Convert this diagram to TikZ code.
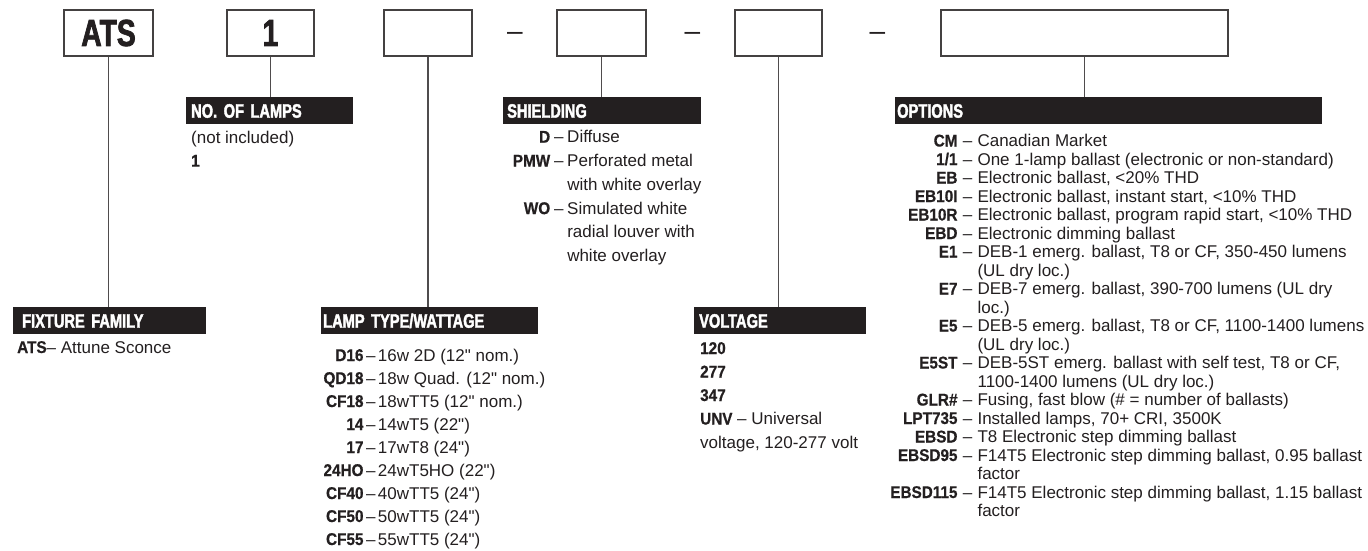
\documentclass[tikz,border=0pt]{standalone}
\usepackage{fontspec}
\usepackage{array}
\setmainfont[Ligatures=TeXOff]{Liberation Sans}
\newfontfamily\hdfont[FakeStretch=0.75, BoldFeatures={FakeBold=2}]{Liberation Sans}
\newfontfamily\labfont[FakeStretch=0.9, BoldFeatures={FakeBold=0.6}]{Liberation Sans}
\definecolor{ink}{HTML}{231F20}
\newcommand\mylab[1]{{\labfont\bfseries #1}}
\newcolumntype{R}[1]{>{\raggedleft\arraybackslash\labfont\bfseries}p{#1}}
\tikzset{
  codebox/.style={draw=ink!85, line width=1.3pt, inner sep=0pt, minimum height=46pt, text=ink,
    font=\hdfont\bfseries\fontsize{37.7pt}{40pt}\selectfont},
  hdr/.style={fill=ink, text=white, anchor=north west, minimum height=27pt, inner ysep=0pt,
    align=left, text height=14pt, text depth=0pt,
    font=\hdfont\bfseries\fontsize{19.5pt}{22pt}\selectfont},
  conn/.style={draw=ink!80, line width=1.3pt},
  body/.style={text=ink, inner sep=0pt, anchor=base west, font=\fontsize{17pt}{23.6pt}\selectfont},
  sepdash/.style={text=ink, inner sep=0pt, anchor=base, font=\fontsize{28pt}{30pt}\selectfont},
}
\begin{document}
\begin{tikzpicture}[x=1pt,y=-1pt]
\fill[white] (0,0) rectangle (1368,550);
\useasboundingbox (0,0) rectangle (1368,550);

% code boxes
\node[codebox, minimum width=89pt] (b1) at (108.5,33) {ATS};
\node[codebox, minimum width=87pt] (b2) at (270.5,33) {1};
\node[codebox, minimum width=88pt] (b3) at (428,33) {};
\node[codebox, minimum width=89pt] (b4) at (601.5,33) {};
\node[codebox, minimum width=87pt] (b5) at (778.5,33) {};
\node[codebox, minimum width=287pt] (b6) at (1084.5,33) {};

% dashes between boxes
\node[sepdash] (d1) at (515,40.7) {–};
\node[sepdash] (d2) at (692.5,40.7) {–};
\node[sepdash] (d3) at (877.5,40.7) {–};

% header bars
\node[hdr, inner xsep=9pt, text width=175pt] (h1) at (13,307) {FIXTURE FAMILY};
\node[hdr, inner xsep=5pt, text width=157pt] (h2) at (186,97) {NO. OF LAMPS};
\node[hdr, inner xsep=2pt, text width=213pt] (h3) at (321,307) {LAMP TYPE/WATTAGE};
\node[hdr, inner xsep=4pt, text width=190pt] (h4) at (503,97) {SHIELDING};
\node[hdr, inner xsep=5pt, text width=162pt] (h5) at (694,307) {VOLTAGE};
\node[hdr, inner xsep=2pt, text width=423pt] (h6) at (895,97) {OPTIONS};

% connectors
\draw[conn] (b1.south) -- (b1.south |- h1.north);
\draw[conn] (b2.south) -- (b2.south |- h2.north);
\draw[conn] (b3.south) -- (b3.south |- h3.north);
\draw[conn] (b4.south) -- (b4.south |- h4.north);
\draw[conn] (b5.south) -- (b5.south |- h5.north);
\draw[conn] (b6.south) -- (b6.south |- h6.north);

% fixture family
\node[body] (t1) at (17,353) {\mylab{ATS}– Attune Sconce};

% no. of lamps
\node[body] (t2) at (191,143) {\begin{tabular}[t]{@{}l@{}}
(not included)\\
\mylab{1}
\end{tabular}};

% lamp type
\node[body, font=\fontsize{17pt}{23pt}\selectfont] (t3) at (303.3,361) {\begin{tabular}[t]{@{}R{60pt}@{\hspace{2.5pt}}c@{\hspace{2.5pt}}l@{}}
D16 & – & 16w 2D (12" nom.)\\
QD18 & – & 18w Quad. (12" nom.)\\
CF18 & – & 18wTT5 (12" nom.)\\
14 & – & 14wT5 (22")\\
17 & – & 17wT8 (24")\\
24HO & – & 24wT5HO (22")\\
CF40 & – & 40wTT5 (24")\\
CF50 & – & 50wTT5 (24")\\
CF55 & – & 55wTT5 (24")
\end{tabular}};

% shielding
\node[body, font=\fontsize{17pt}{23.8pt}\selectfont] (t4) at (500,142.7) {\begin{tabular}[t]{@{}R{50pt}@{\hspace{3.8pt}}c@{\hspace{3.8pt}}l@{}}
D & – & Diffuse\\
PMW & – & Perforated metal\\
 & & with white overlay\\
WO & – & Simulated white\\
 & & radial louver with\\
 & & white overlay
\end{tabular}};

% voltage
\node[body, font=\fontsize{17pt}{23.5pt}\selectfont] (t5) at (700,354) {\begin{tabular}[t]{@{}l@{}}
\mylab{120}\\
\mylab{277}\\
\mylab{347}\\
\mylab{UNV} – Universal\\
voltage, 120-277 volt
\end{tabular}};

% options
\node[body, font=\fontsize{17pt}{18.5pt}\selectfont] (t6) at (877.3,146.5) {\begin{tabular}[t]{@{}R{80pt}@{\hspace{5.3pt}}c@{\hspace{5.3pt}}l@{}}
CM & – & Canadian Market\\
1/1 & – & One 1-lamp ballast (electronic or non-standard)\\
EB & – & Electronic ballast, <20\% THD\\
EB10I & – & Electronic ballast, instant start, <10\% THD\\
EB10R & – & Electronic ballast, program rapid start, <10\% THD\\
EBD & – & Electronic dimming ballast\\
E1 & – & DEB-1 emerg. ballast, T8 or CF, 350-450 lumens\\
 & & (UL dry loc.)\\
E7 & – & DEB-7 emerg. ballast, 390-700 lumens (UL dry\\
 & & loc.)\\
E5 & – & DEB-5 emerg. ballast, T8 or CF, 1100-1400 lumens\\
 & & (UL dry loc.)\\
E5ST & – & DEB-5ST emerg. ballast with self test, T8 or CF,\\
 & & 1100-1400 lumens (UL dry loc.)\\
GLR\# & – & Fusing, fast blow (\# = number of ballasts)\\
LPT735 & – & Installed lamps, 70+ CRI, 3500K\\
EBSD & – & T8 Electronic step dimming ballast\\
EBSD95 & – & F14T5 Electronic step dimming ballast, 0.95 ballast\\
 & & factor\\
EBSD115 & – & F14T5 Electronic step dimming ballast, 1.15 ballast\\
 & & factor
\end{tabular}};
\end{tikzpicture}
\end{document}
